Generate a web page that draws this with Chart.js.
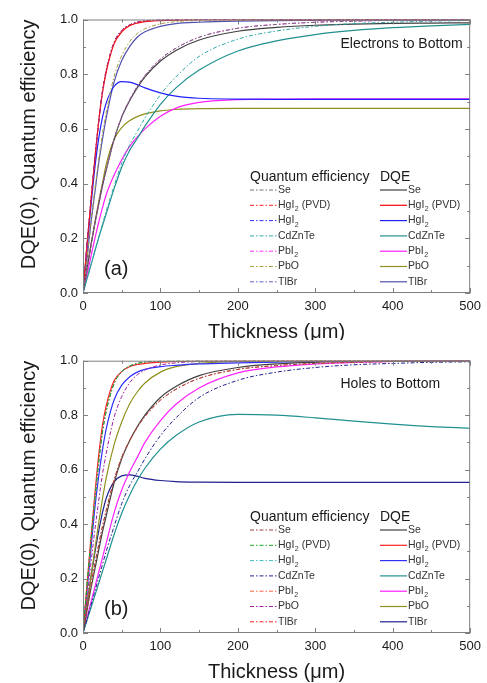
<!DOCTYPE html>
<html>
<head>
<meta charset="utf-8">
<script src="https://cdn.jsdelivr.net/npm/chart.js@4.4.1/dist/chart.umd.min.js"></script>
<style>
  body { margin: 0; background: #fff; }
  .panel { position: relative; width: 487px; height: 340px; }
  #panelB { height: 343px; }
</style>
</head>
<body>
<div class="panel"><canvas id="chartA"></canvas></div>
<div class="panel" id="panelB"><canvas id="chartB"></canvas></div>
<script>
// thickness in um
const thickness = [0, 5, 10, 15, 20, 25, 30, 40, 50, 60, 70, 80, 100, 120, 150, 200, 250, 300, 350, 400, 450, 500];

const materialLabels = ['Se', 'HgI_2 (PVD)', 'HgI_2', 'CdZnTe', 'PbI_2', 'PbO', 'TlBr'];

// quantum efficiency (same in both panels)
const qeSe = [0, 0.085, 0.17, 0.25, 0.32, 0.39, 0.45, 0.56, 0.645, 0.705, 0.755, 0.795, 0.855, 0.895, 0.935, 0.968, 0.982, 0.99, 0.994, 0.997, 0.998, 0.999];
const qeHgI2Pvd = [0, 0.17, 0.33, 0.48, 0.62, 0.735, 0.815, 0.915, 0.96, 0.98, 0.99, 0.995, 0.998, 0.999, 1, 1, 1, 1, 1, 1, 1, 1];
const qeHgI2 = qeHgI2Pvd;
const qeCdZnTe = [0, 0.05, 0.1, 0.15, 0.2, 0.25, 0.3, 0.39, 0.475, 0.54, 0.59, 0.64, 0.725, 0.79, 0.865, 0.928, 0.958, 0.975, 0.985, 0.99, 0.994, 0.996];
const qePbI2 = qeSe;
const qePbO = [0, 0.12, 0.25, 0.37, 0.48, 0.58, 0.66, 0.79, 0.868, 0.918, 0.948, 0.966, 0.984, 0.992, 0.997, 0.999, 1, 1, 1, 1, 1, 1];
const qeTlBr = qeHgI2Pvd;

// DQE(0), electrons to bottom
const elecSe = [0, 0.085, 0.17, 0.25, 0.32, 0.39, 0.45, 0.56, 0.643, 0.702, 0.75, 0.79, 0.848, 0.887, 0.925, 0.957, 0.971, 0.979, 0.983, 0.986, 0.987, 0.988];
const elecHgI2Pvd = [0, 0.17, 0.33, 0.48, 0.62, 0.73, 0.808, 0.91, 0.955, 0.977, 0.987, 0.992, 0.996, 0.998, 0.999, 0.999, 0.999, 0.999, 0.999, 0.999, 0.999, 0.999];
const elecHgI2 = [0, 0.16, 0.31, 0.45, 0.56, 0.64, 0.695, 0.755, 0.773, 0.771, 0.762, 0.75, 0.732, 0.72, 0.712, 0.709, 0.708, 0.708, 0.708, 0.708, 0.708, 0.708];
const elecCdZnTe = [0, 0.05, 0.1, 0.15, 0.2, 0.245, 0.29, 0.38, 0.46, 0.52, 0.565, 0.61, 0.69, 0.75, 0.815, 0.885, 0.922, 0.945, 0.96, 0.97, 0.977, 0.982];
const elecPbI2 = [0, 0.065, 0.13, 0.195, 0.255, 0.31, 0.36, 0.43, 0.487, 0.535, 0.57, 0.6, 0.646, 0.676, 0.697, 0.707, 0.709, 0.71, 0.71, 0.71, 0.71, 0.71];
const elecPbO = [0, 0.085, 0.17, 0.25, 0.33, 0.4, 0.47, 0.56, 0.605, 0.63, 0.645, 0.655, 0.666, 0.671, 0.674, 0.675, 0.675, 0.675, 0.675, 0.675, 0.675, 0.675];
const elecTlBr = [0, 0.12, 0.25, 0.36, 0.47, 0.56, 0.64, 0.77, 0.85, 0.9, 0.935, 0.955, 0.975, 0.985, 0.99, 0.994, 0.996, 0.997, 0.998, 0.998, 0.998, 0.998];

// DQE(0), holes to bottom
const holeSe = [0, 0.08, 0.16, 0.23, 0.3, 0.37, 0.43, 0.55, 0.64, 0.705, 0.757, 0.8, 0.865, 0.905, 0.945, 0.975, 0.988, 0.994, 0.997, 0.998, 0.999, 0.999];
const holeHgI2Pvd = [0, 0.17, 0.34, 0.5, 0.645, 0.76, 0.835, 0.925, 0.96, 0.978, 0.986, 0.99, 0.995, 0.997, 0.999, 1, 1, 1, 1, 1, 1, 1];
const holeHgI2 = [0, 0.15, 0.3, 0.45, 0.57, 0.67, 0.75, 0.855, 0.91, 0.94, 0.958, 0.968, 0.978, 0.983, 0.988, 0.992, 0.995, 0.997, 0.998, 0.999, 1, 1];
const holeCdZnTe = [0, 0.045, 0.09, 0.135, 0.18, 0.225, 0.27, 0.36, 0.44, 0.505, 0.56, 0.605, 0.675, 0.725, 0.775, 0.803, 0.8, 0.79, 0.778, 0.767, 0.758, 0.752];
const holePbI2 = [0, 0.055, 0.11, 0.165, 0.22, 0.275, 0.33, 0.44, 0.525, 0.59, 0.645, 0.7, 0.78, 0.84, 0.9, 0.955, 0.977, 0.988, 0.994, 0.997, 0.999, 1];
const holePbO = [0, 0.1, 0.2, 0.3, 0.4, 0.49, 0.57, 0.69, 0.775, 0.84, 0.885, 0.918, 0.958, 0.978, 0.99, 0.997, 0.999, 1, 1, 1, 1, 1];
const holeTlBr = [0, 0.1, 0.2, 0.29, 0.37, 0.44, 0.495, 0.555, 0.577, 0.581, 0.576, 0.568, 0.56, 0.556, 0.554, 0.553, 0.553, 0.553, 0.553, 0.553, 0.553, 0.553];

const FONT = "'Liberation Sans', Arial, sans-serif";
const DASH = [4, 2, 1.5, 2];

Chart.defaults.font.family = FONT;
Chart.defaults.color = '#1a1a1a';

function points(values) {
    return thickness.map((t, i) => ({ x: t, y: values[i] }));
}

function lineSet(label, values, color, dashed) {
    return {
        label: label,
        data: points(values),
        borderColor: color,
        borderWidth: dashed ? 1 : 1.2,
        borderDash: dashed ? DASH : [],
        pointRadius: 0,
        fill: false,
        cubicInterpolationMode: 'monotone',
    };
}

// label with a subscript after '_'
function drawLabel(ctx, text, x, y) {
    const parts = text.split('_');
    ctx.fillText(parts[0], x, y);
    if (parts.length < 2) return;
    let cx = x + ctx.measureText(parts[0]).width;
    const base = ctx.font;
    ctx.font = '7px ' + FONT;
    ctx.fillText(parts[1][0], cx + 0.5, y + 4);
    cx += ctx.measureText(parts[1][0]).width + 0.5;
    ctx.font = base;
    ctx.fillText(parts[1].slice(1), cx, y);
}

const frameTicks = {
    id: 'frameTicks',
    afterDatasetsDraw(chart) {
        const { ctx, chartArea: a, scales: { x, y } } = chart;
        ctx.save();
        ctx.strokeStyle = '#7f7f7f';
        ctx.lineWidth = 1;
        ctx.strokeRect(a.left + 0.5, a.top + 0.5, a.right - a.left - 1, a.bottom - a.top - 1);
        ctx.beginPath();
        for (let t = 0; t <= 500; t += 50) {
            const px = Math.round(x.getPixelForValue(t)) + 0.5;
            const len = t % 100 === 0 ? 5 : 3;
            ctx.moveTo(px, a.bottom); ctx.lineTo(px, a.bottom - len);
            ctx.moveTo(px, a.top); ctx.lineTo(px, a.top + len);
        }
        for (let k = 0; k <= 10; k++) {
            const py = Math.round(y.getPixelForValue(k / 10)) + 0.5;
            const len = k % 2 === 0 ? 5 : 3;
            ctx.moveTo(a.left, py); ctx.lineTo(a.left + len, py);
            ctx.moveTo(a.right, py); ctx.lineTo(a.right - len, py);
        }
        ctx.stroke();
        ctx.restore();
    },
};

const legendPanel = {
    id: 'legendPanel',
    afterDraw(chart, args, opts) {
        const ctx = chart.ctx;
        const sets = chart.data.datasets;
        ctx.save();
        ctx.fillStyle = '#1a1a1a';
        ctx.textBaseline = 'middle';
        ctx.font = '14px ' + FONT;
        ctx.fillText(opts.note, 340.5, 44.5);
        ctx.font = '20px ' + FONT;
        ctx.fillText(opts.tag, 104, 269.5);
        ctx.font = '14px ' + FONT;
        ctx.fillText('Quantum efficiency', 250, 177.5);
        ctx.fillText('DQE', 380, 177.5);
        ctx.font = '10.5px ' + FONT;
        ctx.fillStyle = '#333';
        materialLabels.forEach((label, i) => {
            const y = 190 + i * 15.3;
            [0, 1].forEach((col) => {
                const ds = sets[col * 7 + i];
                const x0 = col ? 380 : 250;
                ctx.beginPath();
                ctx.setLineDash(ds.borderDash);
                ctx.strokeStyle = ds.borderColor;
                ctx.lineWidth = ds.borderWidth;
                ctx.moveTo(x0, y);
                ctx.lineTo(x0 + 27, y);
                ctx.stroke();
                ctx.setLineDash([]);
                drawLabel(ctx, label, x0 + 28, y);
            });
        });
        ctx.restore();
    },
};

function makeChart(id, datasets, note, tag, topPad, xHeight, xTitleLine) {
    return new Chart(document.getElementById(id), {
        type: 'line',
        data: { datasets: datasets },
        plugins: [frameTicks, legendPanel],
        options: {
            responsive: true,
            maintainAspectRatio: false,
            animation: false,
            layout: { padding: { left: 0, right: 12, top: topPad, bottom: 0 } },
            plugins: {
                legend: { display: false },
                tooltip: { enabled: false },
                legendPanel: { note: note, tag: tag },
            },
            scales: {
                x: {
                    type: 'linear',
                    min: 0,
                    max: 500,
                    grid: { display: false, drawTicks: false },
                    border: { display: false },
                    ticks: { stepSize: 100, padding: 6, font: { size: 13 }, maxRotation: 0 },
                    title: {
                        display: true,
                        text: 'Thickness (\u03bcm)',
                        font: { size: 20, lineHeight: xTitleLine },
                        padding: { top: 0, bottom: 0 },
                    },
                    afterFit: (scale) => { scale.height = xHeight; },
                },
                y: {
                    min: 0,
                    max: 1,
                    grid: { display: false, drawTicks: false },
                    border: { display: false },
                    ticks: { stepSize: 0.2, padding: 5, font: { size: 13 }, callback: (v) => v.toFixed(1) },
                    title: {
                        display: true,
                        text: 'DQE(0), Quantum efficiency',
                        align: 'end',
                        font: { size: 20, lineHeight: 1.2 },
                        padding: { top: 17, bottom: 0 },
                    },
                    afterFit: (scale) => { scale.width = 83; },
                },
            },
        },
    });
}

makeChart('chartA', [
    lineSet('Se', qeSe, '#707070', true),
    lineSet('HgI2 (PVD)', qeHgI2Pvd, '#ff2020', true),
    lineSet('HgI2', qeHgI2, '#3030ff', true),
    lineSet('CdZnTe', qeCdZnTe, '#30a8a8', true),
    lineSet('PbI2', qePbI2, '#ff30ff', true),
    lineSet('PbO', qePbO, '#a8a040', true),
    lineSet('TlBr', qeTlBr, '#6060c0', true),
    lineSet('Se', elecSe, '#404040', false),
    lineSet('HgI2 (PVD)', elecHgI2Pvd, '#ff0000', false),
    lineSet('HgI2', elecHgI2, '#2020ff', false),
    lineSet('CdZnTe', elecCdZnTe, '#209090', false),
    lineSet('PbI2', elecPbI2, '#ff20ff', false),
    lineSet('PbO', elecPbO, '#909020', false),
    lineSet('TlBr', elecTlBr, '#5050b0', false),
], 'Electrons to Bottom', '(a)', 19.5, 47, 0.8);

makeChart('chartB', [
    lineSet('Se', qeSe, '#a04040', true),
    lineSet('HgI2 (PVD)', qeHgI2Pvd, '#20a020', true),
    lineSet('HgI2', qeHgI2, '#40c0c0', true),
    lineSet('CdZnTe', qeCdZnTe, '#202090', true),
    lineSet('PbI2', qePbI2, '#ff6040', true),
    lineSet('PbO', qePbO, '#a020a0', true),
    lineSet('TlBr', qeTlBr, '#ff2020', true),
    lineSet('Se', holeSe, '#404040', false),
    lineSet('HgI2 (PVD)', holeHgI2Pvd, '#ff2020', false),
    lineSet('HgI2', holeHgI2, '#3030ff', false),
    lineSet('CdZnTe', holeCdZnTe, '#209090', false),
    lineSet('PbI2', holePbI2, '#ff20ff', false),
    lineSet('PbO', holePbO, '#909020', false),
    lineSet('TlBr', holeTlBr, '#202090', false),
], 'Holes to Bottom', '(b)', 20.7, 50, 1.1);
</script>
</body>
</html>
